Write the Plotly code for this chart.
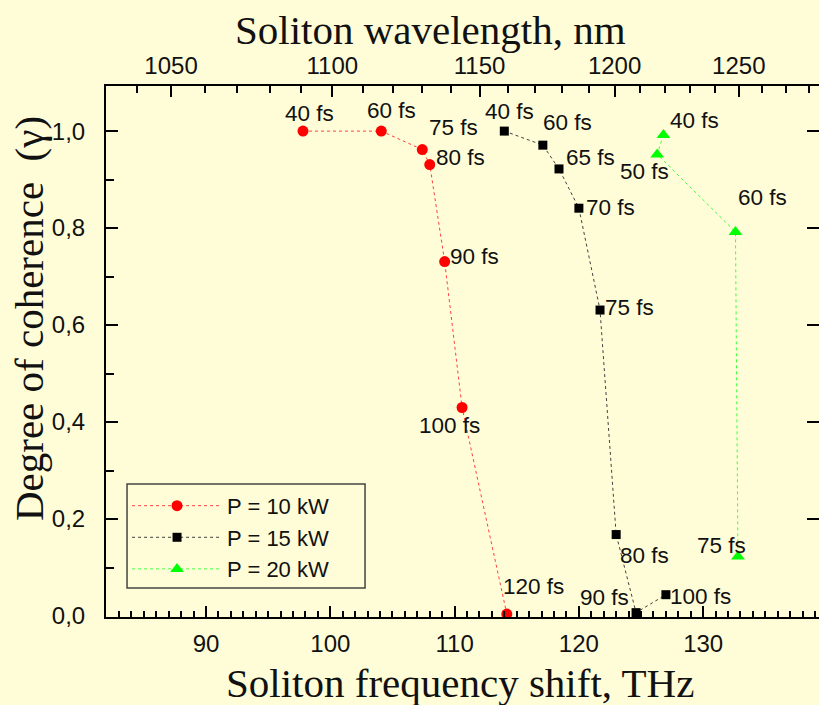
import plotly.graph_objects as go

# ---------------- data ----------------
red_x = [97.8, 104.1, 107.4, 108.0, 109.2, 110.6, 114.2]
red_y = [1.00, 1.00, 0.962, 0.931, 0.731, 0.430, 0.004]
red_lbl = ["40 fs", "60 fs", "75 fs", "80 fs", "90 fs", "100 fs", "120 fs"]

blk_x = [114.0, 117.1, 118.4, 120.0, 121.7, 123.0, 124.6, 127.0]
blk_y = [1.00, 0.971, 0.922, 0.841, 0.631, 0.168, 0.007, 0.044]
blk_lbl = ["40 fs", "60 fs", "65 fs", "70 fs", "75 fs", "80 fs", "90 fs", "100 fs"]

grn_x = [126.8, 126.3, 132.6, 132.8]
grn_y = [0.992, 0.952, 0.792, 0.123]
grn_lbl = ["40 fs", "50 fs", "60 fs", "75 fs"]

series_names = ["P = 10 kW", "P = 15 kW", "P = 20 kW"]

x_ticks = [90, 100, 110, 120, 130]
y_ticks = [0.0, 0.2, 0.4, 0.6, 0.8, 1.0]
y_ticktext = ["0,0", "0,2", "0,4", "0,6", "0,8", "1,0"]
wl_ticks = [1050, 1100, 1150, 1200, 1250]
wl_minor = list(range(1040, 1290, 10))

x_title = "Soliton frequency shift, THz"
x2_title = "Soliton wavelength, nm"
y_title = "Degree of coherence  (γ)"

# ---------------- styles / layout constants ----------------
C_LIGHT = 299792.458  # nm*THz
NU_P = 372.7          # pump frequency used for top axis conversion (THz)
BG = "#FFFDD8"
SANS = "Liberation Sans, Arial, sans-serif"
SERIF = "Liberation Serif, Times New Roman, serif"
TXT = "#111111"

red_off = [(7, -18), (10, -21), (31, -22), (31, -7), (30, -5), (-13, 18), (27, -28)]
blk_off = [(5, -20), (25, -23), (31, -11), (32, -1), (29, -3), (28, 21), (-32, -15), (35, 2)]
grn_off = [(31, -14), (-13, 17), (27, -34), (-16, -11)]

X_RANGE = [81.95, 139.32]
Y_RANGE = [-0.002, 1.093]

fig = go.Figure()

specs = [
    (red_x, red_y, series_names[0], "#FF0000", "#FF4040", "circle", 11),
    (blk_x, blk_y, series_names[1], "#000000", "#404040", "square", 9),
    (grn_x, grn_y, series_names[2], "#00FF00", "#40FF40", "triangle-up", 12),
]
for xs, ys, name, mc, lc, sym, sz in specs:
    fig.add_trace(go.Scatter(
        x=xs, y=ys, name=name, mode="lines+markers",
        line=dict(color=lc, width=1, dash="dot"),
        marker=dict(color=mc, symbol=sym, size=sz, line=dict(width=0)),
        hoverinfo="skip",
    ))

# dummy traces to realise the top x-axis and right y-axis
fig.add_trace(go.Scatter(x=[None], y=[None], xaxis="x2", yaxis="y", showlegend=False, hoverinfo="skip"))
fig.add_trace(go.Scatter(x=[None], y=[None], xaxis="x", yaxis="y2", showlegend=False, hoverinfo="skip"))

for xs, ys, lbls, offs in [(red_x, red_y, red_lbl, red_off),
                           (blk_x, blk_y, blk_lbl, blk_off),
                           (grn_x, grn_y, grn_lbl, grn_off)]:
    for x, y, t, (dx, dy) in zip(xs, ys, lbls, offs):
        fig.add_annotation(x=x, y=y, text=t, showarrow=False,
                           xshift=dx, yshift=-dy,
                           font=dict(family=SANS, size=22.5, color=TXT))

# axis titles (placed as paper annotations)
fig.add_annotation(text=x_title, xref="paper", yref="paper", x=0.497, y=-0.125,
                   xanchor="center", yanchor="middle", showarrow=False,
                   font=dict(family=SERIF, size=41, color=TXT))
fig.add_annotation(text=x2_title, xref="paper", yref="paper", x=0.455, y=1.105,
                   xanchor="center", yanchor="middle", showarrow=False,
                   font=dict(family=SERIF, size=41, color=TXT))
fig.add_annotation(text=y_title, xref="paper", yref="paper", x=-0.108, y=0.563,
                   xanchor="center", yanchor="middle", showarrow=False, textangle=-90,
                   font=dict(family=SERIF, size=41, color=TXT))

# legend frame
fig.add_shape(type="rect", xref="paper", yref="paper",
              x0=0.0295, x1=0.3633, y0=0.0546, y1=0.2505,
              line=dict(color="#444444", width=1.5), fillcolor="rgba(0,0,0,0)")

top_vals = [NU_P - C_LIGHT / w for w in wl_ticks]
top_minor = [NU_P - C_LIGHT / w for w in wl_minor]

fig.update_layout(
    width=819, height=705,
    margin=dict(l=106, r=0, t=86, b=88),
    paper_bgcolor=BG, plot_bgcolor=BG,
    showlegend=True,
    legend=dict(
        x=0.0295, y=0.2488, xanchor="left", yanchor="top",
        bgcolor="rgba(0,0,0,0)", borderwidth=0,
        font=dict(family=SANS, size=22, color=TXT),
        itemwidth=90, tracegroupgap=0,
    ),
    xaxis=dict(
        range=X_RANGE, showgrid=False, zeroline=False,
        showline=True, linecolor="black", linewidth=2,
        ticks="inside", ticklen=11, tickwidth=2, tickcolor="black",
        tickvals=x_ticks, ticktext=[str(v) for v in x_ticks],
        tickfont=dict(family=SANS, size=24, color=TXT),
        ticklabelstandoff=4,
        minor=dict(dtick=1, tick0=0, ticks="inside", ticklen=6, tickwidth=1.5, tickcolor="black"),
    ),
    xaxis2=dict(
        overlaying="x", side="top", anchor="y", range=X_RANGE,
        showgrid=False, zeroline=False,
        showline=True, linecolor="black", linewidth=2,
        ticks="inside", ticklen=11, tickwidth=2, tickcolor="black",
        tickvals=top_vals, ticktext=[str(v) for v in wl_ticks],
        tickfont=dict(family=SANS, size=24, color=TXT),
        minor=dict(tickvals=top_minor, ticks="inside", ticklen=7, tickwidth=1.5, tickcolor="black"),
    ),
    yaxis=dict(
        range=Y_RANGE, showgrid=False, zeroline=False,
        showline=True, linecolor="black", linewidth=2,
        ticks="inside", ticklen=12, tickwidth=2, tickcolor="black",
        tickvals=y_ticks, ticktext=y_ticktext,
        tickfont=dict(family=SANS, size=24, color=TXT),
        ticklabelstandoff=14,
        minor=dict(tickvals=[0.1, 0.3, 0.5, 0.7, 0.9], ticks="inside", ticklen=8, tickwidth=1.5, tickcolor="black"),
    ),
    yaxis2=dict(
        overlaying="y", side="right", anchor="x", range=Y_RANGE,
        showgrid=False, zeroline=False, showline=False,
        ticks="inside", ticklen=12, tickwidth=2, tickcolor="black",
        tickvals=y_ticks, showticklabels=False,
    ),
)

fig.write_html("out.html")
